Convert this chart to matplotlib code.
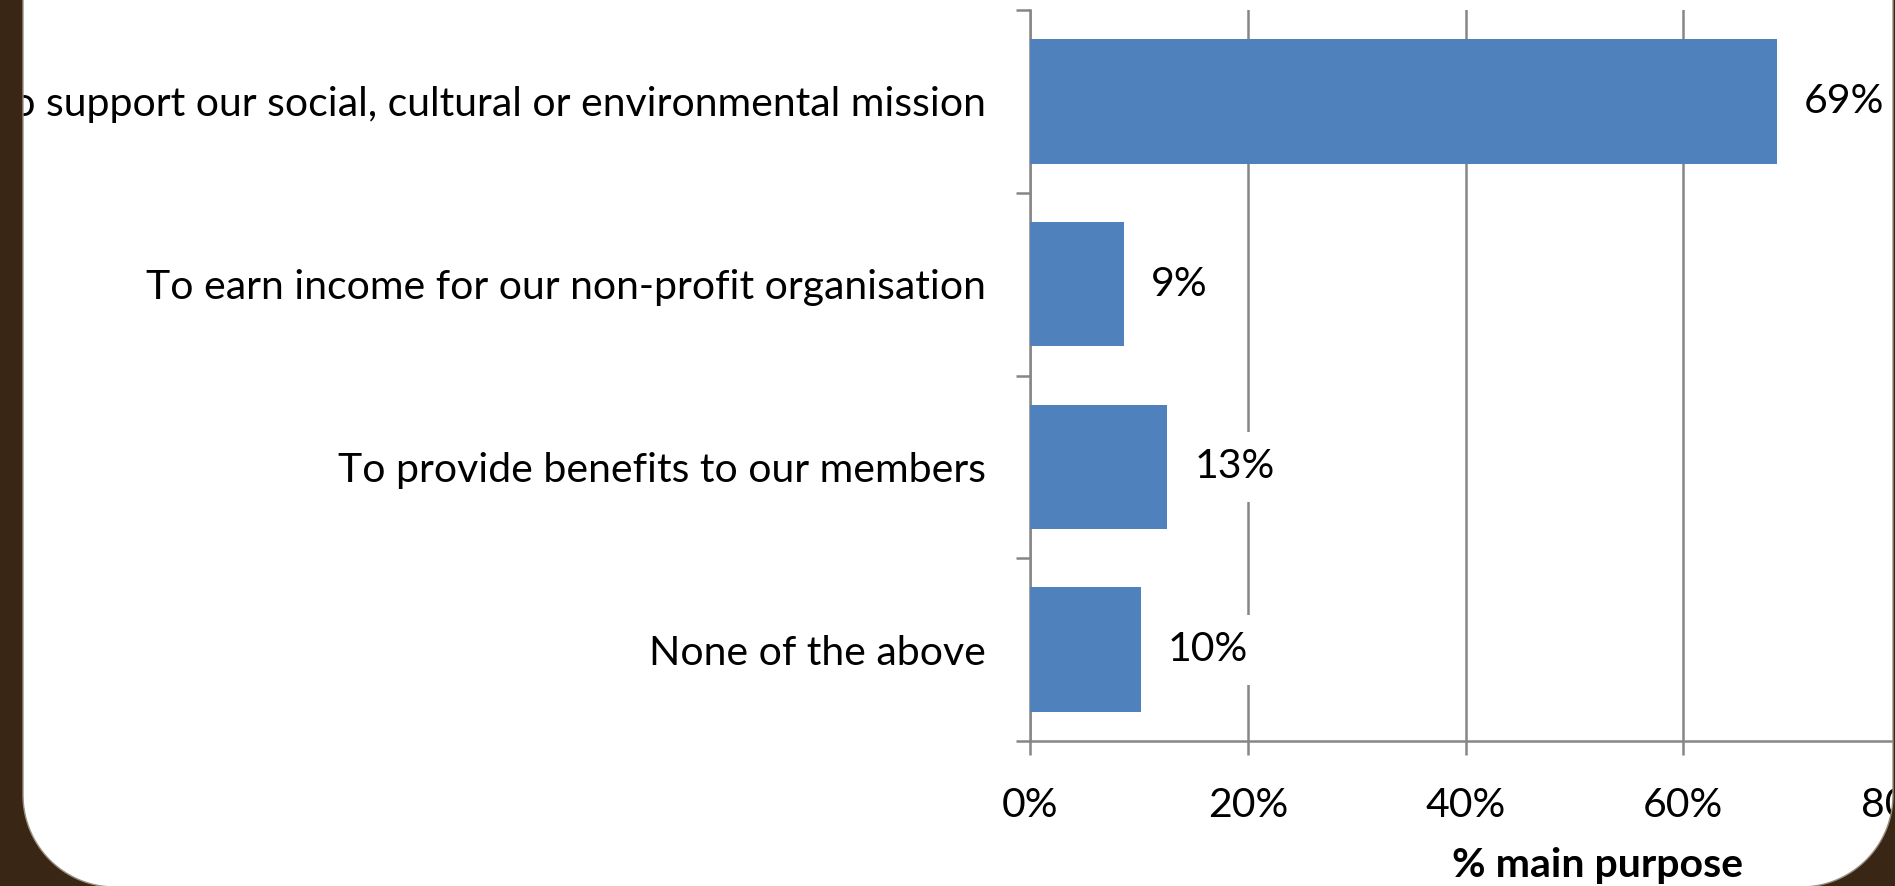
"""Main purpose of trading - horizontal bar chart on a rounded slide panel."""

import matplotlib
matplotlib.use("Agg")
import matplotlib.pyplot as plt
import numpy as np
from matplotlib.path import Path
from matplotlib.patches import PathPatch

categories = [
    "To support our social, cultural or environmental mission",
    "To earn income for our non-profit organisation",
    "To provide benefits to our members",
    "None of the above",
]
values = [68.6, 8.6, 12.6, 10.2]
xticks = [0, 20, 40, 60, 80]
xlabel = "% main purpose"

W, H = 1895, 886
BROWN = "#3a2614"
BAR = "#4f81bd"
GRID = "#868686"

plt.rcParams["font.family"] = ["Lato", "DejaVu Sans"]
FS = 29.5

fig = plt.figure(figsize=(W / 100, H / 100), dpi=100)
fig.patch.set_facecolor("white")

# axes placed in pixel terms (x axis runs past the right edge, as in the slide)
ax = fig.add_axes([1030 / W, 1 - 741 / H, 871 / W, 731 / H])
ax.set_facecolor("none")

y = np.arange(len(categories))
ax.barh(y, values, height=0.68, color=BAR, zorder=3)

ax.set_xlim(0, 80)
ax.set_ylim(len(categories) - 0.5, -0.5)

ax.set_xticks(xticks)
ax.set_xticklabels([f"{t}%" for t in xticks])
ax.set_yticks(np.arange(len(categories) + 1) - 0.5)
ax.set_yticklabels([])
ax.set_yticks(y, minor=True)
ax.set_yticklabels(categories, minor=True)

ax.tick_params(axis="x", which="major", length=10, width=1.8, color=GRID,
               labelsize=FS, pad=23)
ax.tick_params(axis="y", which="major", length=10, width=1.8, color=GRID)
ax.tick_params(axis="y", which="minor", length=0, labelsize=FS, pad=32)

for side in ("top", "right"):
    ax.spines[side].set_visible(False)
for side in ("left", "bottom"):
    ax.spines[side].set_color(GRID)
    ax.spines[side].set_linewidth(1.8)

ax.grid(axis="x", color=GRID, linewidth=1.8, zorder=1)
ax.set_axisbelow(True)

for yi, v in zip(y, values):
    ax.annotate(f"{v:.0f}%", xy=(v, yi), xytext=(19.5, 0), textcoords="offset points",
                ha="left", va="center", fontsize=FS, zorder=4,
                bbox=dict(boxstyle="square,pad=0.4", fc="white", ec="none"))

ax.set_xlabel(xlabel, fontsize=FS, fontweight="bold", va="center")
ax.xaxis.set_label_coords((1598 - 1030) / 871, (741 - 865) / 731)

# brown slide frame over everything: full rect minus rounded white panel
left, right, top, bottom, r = 23, 1893, -300, 887, 92


def arc(cx, cy, a0, a1, n=40):
    t = np.linspace(np.radians(a0), np.radians(a1), n)
    return np.column_stack([cx + r * np.cos(t), cy + r * np.sin(t)])


# pixel coords with y downward; go around the panel
inner = np.vstack([
    [[left, top]],
    arc(left + r, bottom - r, 180, 90),     # bottom-left corner
    arc(right - r, bottom - r, 90, 0),      # bottom-right corner
    [[right, top]],
])
inner_fig = np.column_stack([inner[:, 0] / W, 1 - inner[:, 1] / H])
outer_fig = np.array([[-0.1, -0.1], [-0.1, 1.1], [1.1, 1.1], [1.1, -0.1]])

# outer loop clockwise, inner loop counter-clockwise -> hole
inner_loop = np.vstack([inner_fig, inner_fig[:1]])
outer_loop = np.vstack([outer_fig, outer_fig[:1]])
verts = np.vstack([outer_loop, inner_loop])
codes = ([Path.MOVETO] + [Path.LINETO] * (len(outer_loop) - 2) + [Path.CLOSEPOLY]
         + [Path.MOVETO] + [Path.LINETO] * (len(inner_loop) - 2) + [Path.CLOSEPOLY])
frame = PathPatch(Path(verts, codes), facecolor=BROWN, edgecolor="none",
                  transform=fig.transFigure, zorder=10)
fig.patches.append(frame)

edge = PathPatch(Path(inner_fig), facecolor="none", edgecolor="#9a9082", linewidth=1.0,
                 transform=fig.transFigure, zorder=11)
fig.patches.append(edge)

fig.savefig("out.png", dpi=100, facecolor=fig.get_facecolor())
plt.close(fig)
